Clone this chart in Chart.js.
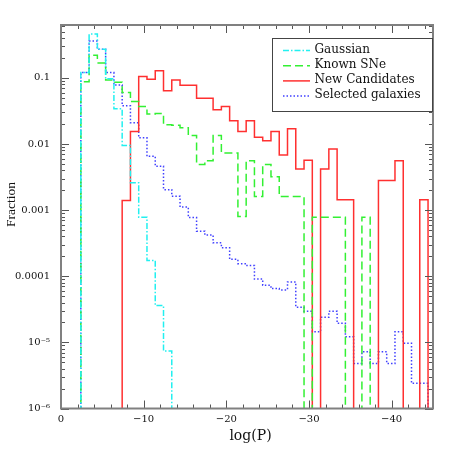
<!DOCTYPE html>
<html>
<head>
<meta charset="utf-8">
<script src="https://cdn.jsdelivr.net/npm/chart.js@4.4.0/dist/chart.umd.min.js"></script>
<style>
    html, body { margin: 0; padding: 0; background: #fff; }
    #wrap { width: 458px; height: 458px; }
</style>
</head>
<body>
<div id="wrap"><canvas id="chart" width="458" height="458"></canvas></div>
<script>
// left edge of every log(P) bin (the axis shows them as negative numbers)
var binEdges = [2.4, 3.4, 4.4, 5.4, 6.4, 7.4, 8.4, 9.4, 10.4, 11.4, 12.4, 13.4, 14.4, 15.4,
    16.4, 17.4, 18.4, 19.4, 20.4, 21.4, 22.4, 23.4, 24.4, 25.4, 26.4, 27.4, 28.4, 29.4,
    30.4, 31.4, 32.4, 33.4, 34.4, 35.4, 36.4, 37.4, 38.4, 39.4, 40.4, 41.4, 42.4, 43.4];
var lastEdge = 44.4;

var gaussian = [0.12, 0.46, 0.27, 0.097, 0.034, 0.0095, 0.0026, 7.8e-4, 1.73e-4, 3.6e-5, 7.4e-6,
    0, 0, 0, 0, 0, 0, 0, 0, 0, 0, 0, 0, 0, 0, 0, 0, 0, 0, 0, 0, 0, 0, 0, 0, 0, 0, 0, 0, 0, 0, 0];
var knownSNe = [0.087, 0.22, 0.168, 0.093, 0.086, 0.06, 0.044, 0.037, 0.0284, 0.029, 0.0195,
    0.0192, 0.0176, 0.0134, 0.0049, 0.0056, 0.0134, 0.0073, 0.0073, 8.0e-4, 0.0056, 0.0016,
    0.0049, 0.0032, 0.0016, 0.0016, 0.0016, 0, 7.8e-4, 7.8e-4, 7.8e-4, 7.8e-4, 0, 0, 7.8e-4,
    0, 0, 0, 0, 0, 0, 0];
var newCandidates = [0, 0, 0, 0, 0, 0.0014, 0.0154, 0.105, 0.095, 0.128, 0.064, 0.093, 0.077,
    0.077, 0.049, 0.049, 0.033, 0.037, 0.0224, 0.0154, 0.0224, 0.0126, 0.0112, 0.0155, 0.0068,
    0.017, 0.0042, 0.0057, 0, 0.0042, 0.0084, 0.00144, 0.00144, 0, 0, 0, 0.0028, 0.0028, 0.0056,
    0, 0, 0.00144];
var selectedGalaxies = [0.12, 0.36, 0.27, 0.12, 0.078, 0.038, 0.021, 0.0124, 0.0065, 0.0046,
    0.00204, 0.00162, 0.00111, 7.7e-4, 4.8e-4, 4.2e-4, 3.2e-4, 2.7e-4, 1.8e-4, 1.55e-4, 1.46e-4,
    9.1e-5, 7.3e-5, 6.5e-5, 6.2e-5, 8.2e-5, 3.4e-5, 2.96e-5, 1.45e-5, 2.4e-5, 2.96e-5, 1.94e-5,
    1.22e-5, 4.8e-6, 7.2e-6, 4.8e-6, 7.2e-6, 4.8e-6, 1.45e-5, 9.7e-6, 2.4e-6, 2.4e-6];

var xTickVals = [0, 10, 20, 30, 40];
var xTickLabels = ['0', '\u221210', '\u221220', '\u221230', '\u221240'];
var yTickVals = [1e-6, 1e-5, 1e-4, 1e-3, 0.01, 0.1];
var yTickLabels = ['10\u207B\u2076', '10\u207B\u2075', '0.0001', '0.001', '0.01', '0.1'];

var FLOOR = 1e-9; // empty bins drop below the axis

function stepPoints(values) {
    var pts = [{ x: binEdges[0], y: FLOOR }];
    values.forEach(function (v, i) {
        pts.push({ x: binEdges[i], y: v > 0 ? v : FLOOR });
    });
    pts.push({ x: lastEdge, y: FLOOR });
    return pts;
}

function makeSet(label, values, color, dash) {
    return {
        label: label,
        data: stepPoints(values),
        borderColor: color,
        borderWidth: 1.5,
        borderDash: dash,
        stepped: 'before',
        pointRadius: 0,
        fill: false,
        clip: 0
    };
}

var serif = 'DejaVu Serif';

// frame, inward ticks, legend and axis titles
const framePlugin = {
    id: 'frame',
    afterDatasetsDraw(chart) {
        const ctx = chart.ctx;
        const a = chart.chartArea;
        const xs = chart.scales.x;
        const ys = chart.scales.y;

        function line(x1, y1, x2, y2) {
            ctx.beginPath();
            ctx.moveTo(x1, y1);
            ctx.lineTo(x2, y2);
            ctx.stroke();
        }

        ctx.save();
        ctx.strokeStyle = '#555';
        ctx.lineWidth = 1;
        for (let v = 0; v <= 44; v += 2) {
            const px = Math.round(xs.getPixelForValue(v)) + 0.5;
            const len = v % 10 === 0 ? 8 : 4;
            line(px, a.bottom, px, a.bottom - len);
            line(px, a.top, px, a.top + len);
        }
        for (let d = -6; d <= -1; d++) {
            for (let m = 1; m <= 9; m++) {
                const v = m * Math.pow(10, d);
                if (v > ys.max) break;
                const py = Math.round(ys.getPixelForValue(v)) + 0.5;
                const len = m === 1 ? 8 : 4;
                line(a.left, py, a.left + len, py);
                line(a.right, py, a.right - len, py);
            }
        }

        ctx.strokeStyle = '#808080';
        ctx.lineWidth = 2;
        ctx.strokeRect(a.left, a.top, a.right - a.left, a.bottom - a.top);

        // legend box
        const bx = a.right - 161, by = a.top + 13, bw = 160, bh = 73;
        ctx.fillStyle = '#fff';
        ctx.fillRect(bx, by, bw, bh);
        ctx.strokeStyle = '#444';
        ctx.lineWidth = 1;
        ctx.strokeRect(bx + 0.5, by + 0.5, bw, bh);
        ctx.font = '12px "' + serif + '"';
        ctx.textBaseline = 'middle';
        ctx.textAlign = 'left';
        chart.data.datasets.forEach(function (ds, i) {
            const ty = by + 11.5 + i * 15.2;
            ctx.strokeStyle = ds.borderColor;
            ctx.lineWidth = 1.5;
            ctx.setLineDash(ds.borderDash || []);
            line(bx + 11, ty + 1, bx + 38, ty + 1);
            ctx.setLineDash([]);
            ctx.fillStyle = '#111';
            ctx.fillText(ds.label, bx + 42.5, ty);
        });

        // axis titles
        ctx.fillStyle = '#111';
        ctx.textAlign = 'center';
        ctx.font = '14px "' + serif + '"';
        ctx.fillText('log(P)', 250.5, 436);
        ctx.save();
        ctx.translate(11, 204.5);
        ctx.rotate(-Math.PI / 2);
        ctx.font = '13.5px "Liberation Serif"';
        ctx.fillText('Fraction', 0, 0);
        ctx.restore();
        ctx.restore();
    }
};

const ctx = document.getElementById('chart').getContext('2d');
const chart = new Chart(ctx, {
    type: 'line',
    data: {
        datasets: [
            makeSet('Gaussian', gaussian, '#22f0f0', [6, 2, 1.5, 2]),
            makeSet('Known SNe', knownSNe, '#33f033', [8, 4]),
            makeSet('New Candidates', newCandidates, '#ff3030', []),
            makeSet('Selected galaxies', selectedGalaxies, '#4040ff', [1.5, 2])
        ]
    },
    options: {
        responsive: false,
        animation: false,
        layout: { padding: { left: 0, top: 25, right: 25, bottom: 0 } },
        plugins: {
            legend: { display: false },
            tooltip: { enabled: false }
        },
        elements: { line: { tension: 0 } },
        scales: {
            x: {
                type: 'linear',
                min: 0,
                max: 45,
                grid: { display: false, drawTicks: false },
                border: { display: false },
                ticks: {
                    font: { family: serif, size: 10 },
                    color: '#111',
                    padding: 5,
                    maxRotation: 0,
                    callback: function (v) {
                        const i = xTickVals.indexOf(v);
                        return i >= 0 ? xTickLabels[i] : '';
                    }
                },
                afterBuildTicks: function (s) {
                    s.ticks = xTickVals.map(function (v) { return { value: v }; });
                },
                afterFit: function (s) { s.height = 49.5; }
            },
            y: {
                type: 'logarithmic',
                min: 1e-6,
                max: 0.63,
                grid: { display: false, drawTicks: false },
                border: { display: false },
                ticks: {
                    font: { family: serif, size: 10 },
                    color: '#111',
                    padding: 11,
                    callback: function (v) {
                        const i = yTickVals.indexOf(v);
                        return i >= 0 ? yTickLabels[i] : '';
                    }
                },
                afterBuildTicks: function (s) {
                    s.ticks = yTickVals.map(function (v) { return { value: v }; });
                },
                afterFit: function (s) { s.width = 61; }
            }
        }
    },
    plugins: [framePlugin]
});
</script>
</body>
</html>
